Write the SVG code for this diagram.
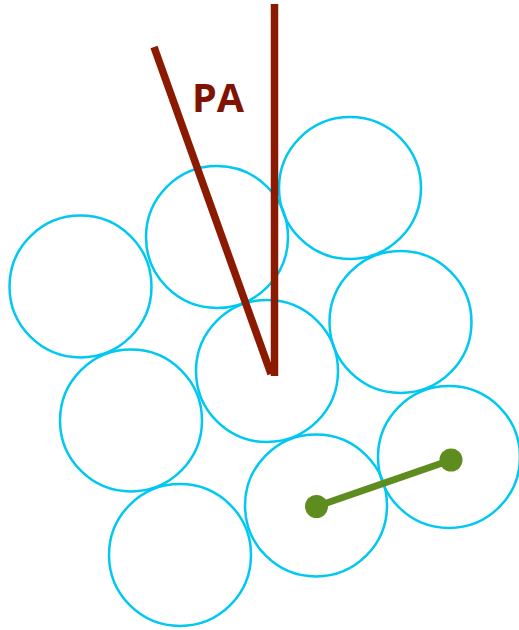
<svg xmlns="http://www.w3.org/2000/svg" width="519" height="630" viewBox="0 0 519 630">
<style>
.c{fill:none;stroke:#00C8F0;stroke-width:2.5}
.pa{stroke:#8B1A00;stroke-width:7.5;fill:none}
.g{stroke:#5E8C1E;stroke-width:7}
.dot{fill:#5E8C1E}
.lbl{font-family:"Open Sans","Noto Sans",sans-serif;font-weight:bold;font-size:39.5px;fill:#7F1200}
</style>
<rect width="519" height="630" fill="#fff"/>
<g id="circle1"><circle class="c" cx="80.5" cy="286.5" r="71"/></g>
<g id="circle2"><circle class="c" cx="217" cy="237" r="71"/></g>
<g id="circle3"><circle class="c" cx="350" cy="188" r="71"/></g>
<g id="circle4"><circle class="c" cx="400.5" cy="322" r="71"/></g>
<g id="circle5"><circle class="c" cx="267" cy="371" r="71"/></g>
<g id="circle6"><circle class="c" cx="131" cy="420.5" r="71"/></g>
<g id="circle7"><circle class="c" cx="180" cy="555" r="71"/></g>
<g id="circle8"><circle class="c" cx="316" cy="505.5" r="71"/></g>
<g id="circle9"><circle class="c" cx="449" cy="457" r="71"/></g>
<g id="connectors">
<line class="pa" x1="274.5" y1="4" x2="274.5" y2="376"/>
<line class="pa" x1="154" y1="47" x2="271" y2="374"/>
<line class="g" x1="316.5" y1="506.5" x2="451" y2="460"/>
<circle class="dot" cx="316.5" cy="506.5" r="11.5"/>
<circle class="dot" cx="451" cy="460" r="11.5"/>
</g>
<g id="label"><text class="lbl" x="192" y="111.5">PA</text></g>
</svg>
